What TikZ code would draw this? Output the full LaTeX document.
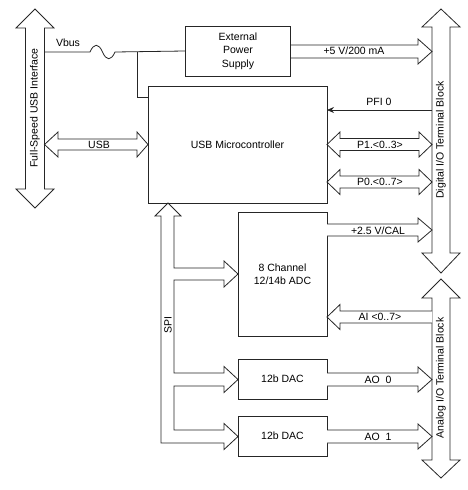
\documentclass[tikz,border=0pt]{standalone}
\usepackage{fontspec}
\setmainfont{Liberation Sans}
\usetikzlibrary{arrows.meta}
\begin{document}
\begin{tikzpicture}[x=1pt,y=-1pt,
  ln/.style={draw=black!85, line width=0.8pt},
  fat/.style={draw=black!85, line width=0.8pt, fill=white, line join=miter},
  blk/.style={draw=black!85, line width=0.8pt, fill=white, inner sep=0pt, align=center,
     font=\fontsize{10.5}{13.5}\selectfont},
  lbl/.style={inner sep=0pt, font=\fontsize{10.5}{12}\selectfont},
  vlbl/.style={inner sep=0pt, rotate=90, font=\fontsize{10.5}{12}\selectfont}]
\useasboundingbox (0,0) rectangle (468,490);

% ---- buses ----
\path[fat] (25.5,28) -- (16,28) -- (35,9) -- (54,28) -- (44.5,28) -- (44.5,189) -- (54,189)
  -- (35,208) -- (16,189) -- (25.5,189) -- cycle;
\node[vlbl] (usbif) at (35,108) {Full-Speed USB Interface};

\path[fat] (432,27) -- (422,27) -- (441,9) -- (460,27) -- (450,27) -- (450,253) -- (460,253)
  -- (441,273) -- (422,253) -- (432,253) -- cycle;
\node[vlbl] (dio) at (441,140) {Digital I/O Terminal Block};

\path[fat] (432,298) -- (422,298) -- (441,279) -- (460,298) -- (450,298) -- (450,460) -- (460,460)
  -- (441,478) -- (422,460) -- (432,460) -- cycle;
\node[vlbl] (aio) at (441,378) {Analog I/O Terminal Block};

% ---- blocks ----
\node[blk, minimum width=105.5pt, minimum height=50pt] (eps) at (238,51) {External\\Power\\Supply};
\node[blk, minimum width=179pt, minimum height=117pt] (mcu) at (237.5,144.5) {USB Microcontroller};
\node[blk, minimum width=89pt, minimum height=124pt] (adc) at (282.5,274) {8 Channel\\12/14b ADC};
\node[blk, minimum width=89pt, minimum height=40pt] (dac1) at (282.5,379) {12b DAC};
\node[blk, minimum width=89pt, minimum height=40pt] (dac2) at (282.5,436) {12b DAC};

% ---- Vbus wiring ----
\coordinate (vb0) at (44.5,52);
\coordinate (f0) at (90,52);
\coordinate (f1) at (115,52);
\coordinate (vj) at (137,52);
\coordinate (vk) at (137,97);
\coordinate (vm) at (148,97);
\draw[ln] (vb0) -- (f0) .. controls (94,43) and (98.5,43) .. (102.5,52)
  .. controls (106.5,61) and (111,61) .. (f1) -- (eps.west);
\draw[ln] (vj) -- (vk) -- (vm);
\node[lbl] (vbus) at (68,43) {Vbus};

% ---- +5 V ----
\path[fat] (291,45) -- (418,45) -- (418,39) -- (432,51.5) -- (418,64) -- (418,58) -- (291,58);
\node[lbl] (p5) at (354,51) {+5 V/200 mA};

% ---- USB ----
\path[fat] (58,139) -- (137,139) -- (137,132) -- (148,144.5) -- (137,157) -- (137,150) -- (58,150)
  -- (58,157) -- (44.5,144.5) -- (58,132) -- cycle;
\node[lbl] (usb) at (99,144.5) {USB};

% ---- PFI 0 ----
\coordinate (pfiA) at (432,110);
\coordinate (pfiB) at (327,110);
\draw[ln, -{Stealth[length=7pt,width=6pt]}] (pfiA) -- (pfiB);
\node[lbl] (pfi) at (379,102) {PFI 0};

% ---- P1 / P0 ----
\path[fat] (340,138.5) -- (419,138.5) -- (419,132) -- (432,144.5) -- (419,157) -- (419,150.5) -- (340,150.5)
  -- (340,157) -- (327,144.5) -- (340,132) -- cycle;
\node[lbl] (p1) at (380,145) {P1.<0..3>};
\path[fat] (340,176) -- (419,176) -- (419,169.5) -- (432,182) -- (419,194.5) -- (419,188) -- (340,188)
  -- (340,194.5) -- (327,182) -- (340,169.5) -- cycle;
\node[lbl] (p0) at (380,182) {P0.<0..7>};

% ---- +2.5 V/CAL ----
\path[fat] (327,224) -- (418,224) -- (418,218) -- (432,230) -- (418,242) -- (418,236) -- (327,236);
\node[lbl] (cal) at (378,231) {+2.5 V/CAL};

% ---- AI ----
\path[fat] (432,311) -- (340,311) -- (340,304.5) -- (327,317) -- (340,329.5) -- (340,323) -- (432,323);
\node[lbl] (ai) at (380,317) {AI <0..7>};

% ---- AO ----
\path[fat] (327,373) -- (418,373) -- (418,367) -- (432,379.5) -- (418,392) -- (418,386) -- (327,386);
\node[lbl] (ao0) at (378,380) {AO\ \ 0};
\path[fat] (327,430) -- (418,430) -- (418,424) -- (432,436.5) -- (418,449) -- (418,443) -- (327,443);
\node[lbl] (ao1) at (378,437) {AO\ \ 1};

% ---- SPI tree ----
\path[fat] (161,216) -- (155,216) -- (168,203) -- (181,216) -- (174,216) -- (174,268)
  -- (224,268) -- (224,261) -- (238,274) -- (224,287) -- (224,280) -- (174,280)
  -- (174,373) -- (224,373) -- (224,366.5) -- (238,379.5) -- (224,392.5) -- (224,386) -- (174,386)
  -- (174,430) -- (224,430) -- (224,423.5) -- (238,436.5) -- (224,449.5) -- (224,443) -- (161,443) -- cycle;
\node[vlbl] (spi) at (168,325) {SPI};
\end{tikzpicture}
\end{document}
